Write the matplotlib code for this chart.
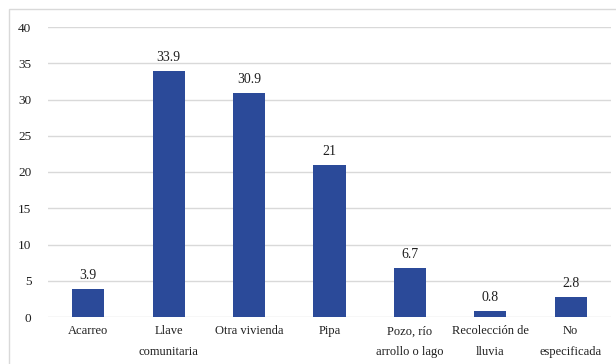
import matplotlib
matplotlib.use("Agg")
import matplotlib.pyplot as plt
from matplotlib.patches import Rectangle

categories = ["Acarreo", "Llave\ncomunitaria", "Otra vivienda", "Pipa",
              "Pozo, río\narrollo o lago", "Recolección de\nlluvia", "No\nespecificada"]
values = [3.9, 33.9, 30.9, 21, 6.7, 0.8, 2.8]
value_labels = ["3.9", "33.9", "30.9", "21", "6.7", "0.8", "2.8"]
yticks = [0, 5, 10, 15, 20, 25, 30, 35, 40]

BAR = "#2B4A99"
GRID = "#D9D9D9"
TEXT = "#1F1F1F"

plt.rcParams["font.family"] = ["Liberation Serif", "DejaVu Serif"]

fig = plt.figure(figsize=(6.16, 3.64), dpi=100)
W, H = 616, 364

# outer chart frame (runs off right/bottom edge)
fig.patches.append(Rectangle((9 / W, -0.1), 1.2, (H - 9) / H + 0.1,
                             transform=fig.transFigure, fill=False,
                             edgecolor=GRID, linewidth=1.0))

ax = fig.add_axes([48 / W, 47 / H, (611 - 48) / W, (317 - 27) / H])
x = list(range(len(categories)))
bars = ax.bar(x, values, width=0.4, color=BAR, zorder=3)

for b, lab in zip(bars, value_labels):
    ax.annotate(lab, (b.get_x() + b.get_width() / 2, b.get_height()),
                xytext=(0, 5), textcoords="offset points",
                ha="center", va="bottom", fontsize=10, color=TEXT)

ax.set_xlim(-0.5, len(categories) - 0.5)
ax.set_ylim(0, 40)
ax.set_yticks(yticks)
ax.set_xticks(x)
ax.set_xticklabels(categories, fontsize=9, color=TEXT)
for t in ax.get_xticklabels():
    t.set_linespacing(2.0)
ax.tick_params(axis="y", length=0, pad=12, labelsize=9.5, labelcolor=TEXT)
ax.tick_params(axis="x", length=0, pad=6)
ax.yaxis.grid(True, color=GRID, linewidth=1.0, zorder=0)
ax.set_axisbelow(True)
for s in ax.spines.values():
    s.set_visible(False)

fig.savefig("out.png", dpi=100)
